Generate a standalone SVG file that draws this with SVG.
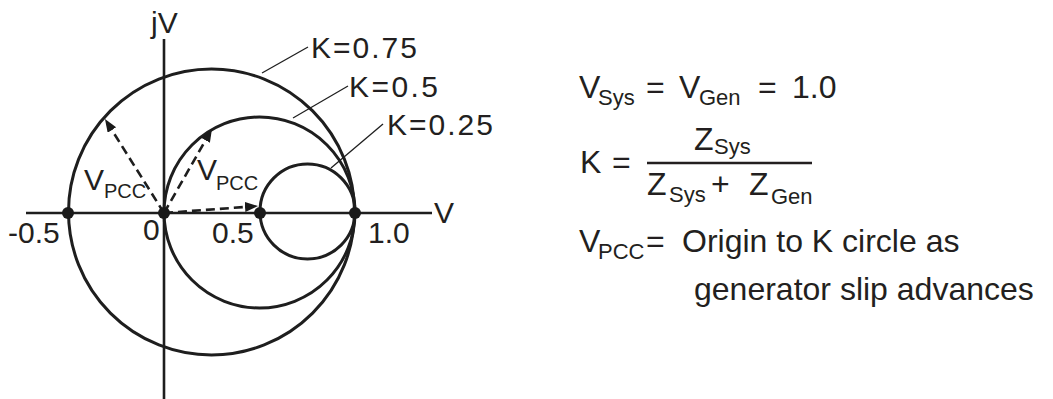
<svg xmlns="http://www.w3.org/2000/svg" width="1053" height="399" viewBox="0 0 1053 399">
<style>
.ax{stroke:#1e1e1e;stroke-width:2.6;fill:none}
.cir{stroke:#1e1e1e;stroke-width:3;fill:none}
.lead{stroke:#1e1e1e;stroke-width:1.3;fill:none}
.dash{stroke:#1e1e1e;stroke-width:2.6;fill:none;stroke-dasharray:9 5}
.dot{fill:#1a1a1a}
text{font-family:"Liberation Sans",Arial,sans-serif;fill:#231f20}
.lbl{font-size:30px}
.sub{font-size:20px}
.big{font-size:32px}
.bsub{font-size:22px}
</style>
<defs>
<marker id="ah" markerUnits="userSpaceOnUse" markerWidth="14" markerHeight="11" refX="9" refY="5" orient="auto">
<path d="M0,0 L13,5 L0,10 z" fill="#1a1a1a"/>
</marker>
</defs>
<rect width="1053" height="399" fill="#ffffff"/>
<g id="axes">
<line class="ax" x1="164" y1="39" x2="164" y2="399"/>
<line class="ax" x1="26" y1="213" x2="432" y2="213"/>
<text class="lbl" x="151" y="33" font-size="29">jV</text>
<text class="lbl" x="434" y="223">V</text>
<text class="lbl" x="8" y="243">-0.5</text>
<text class="lbl" x="143" y="240">0</text>
<text class="lbl" x="212" y="243">0.5</text>
<text class="lbl" x="368" y="243">1.0</text>
</g>
<g id="circles">
<circle id="k075" class="cir" cx="211.5" cy="212" r="143"/>
<circle id="k05" class="cir" cx="259.5" cy="212.5" r="95.5"/>
<circle id="k025" class="cir" cx="307.5" cy="211.5" r="47.5"/>
</g>
<g id="labels">
<line class="lead" x1="262" y1="73" x2="308" y2="47"/>
<text class="lbl" x="311" y="58" textLength="106" lengthAdjust="spacing">K=0.75</text>
<line class="lead" x1="293" y1="118" x2="348" y2="86"/>
<text class="lbl" x="349" y="97" textLength="89" lengthAdjust="spacing">K=0.5</text>
<line class="lead" x1="331" y1="168" x2="383" y2="124"/>
<text class="lbl" x="387" y="135" textLength="106" lengthAdjust="spacing">K=0.25</text>
</g>
<g id="connectors">
<line class="dash" x1="164" y1="213" x2="107.1" y2="122.4" marker-end="url(#ah)"/>
<line class="dash" x1="164" y1="213" x2="210" y2="132.5" marker-end="url(#ah)"/>
<line class="dash" x1="164" y1="213" x2="254" y2="206.3" marker-end="url(#ah)"/>
</g>
<g id="vpcc-labels">
<text class="lbl" x="84" y="190">V</text>
<text class="sub" x="104" y="198">PCC</text>
<text class="lbl" x="197" y="180">V</text>
<text class="sub" x="216" y="190">PCC</text>
</g>
<g id="dots">
<circle class="dot" cx="68" cy="213" r="6"/>
<circle class="dot" cx="164" cy="213" r="6"/>
<circle class="dot" cx="260" cy="213" r="6"/>
<circle class="dot" cx="355" cy="213" r="6"/>
</g>
<g id="formula">
<text class="big" x="579" y="98">V</text>
<text class="bsub" x="598" y="105">Sys</text>
<text class="big" x="646" y="98">=</text>
<text class="big" x="679" y="98">V</text>
<text class="bsub" x="699" y="105">Gen</text>
<text class="big" x="758" y="98">=</text>
<text class="big" x="792" y="98">1.0</text>
<text class="big" x="580" y="173">K</text>
<text class="big" x="612" y="173">=</text>
<line x1="647" y1="163" x2="812" y2="163" stroke="#231f20" stroke-width="2.5"/>
<text class="big" x="694" y="150">Z</text>
<text class="bsub" x="714" y="154">Sys</text>
<text class="big" x="647" y="195">Z</text>
<text class="bsub" x="669" y="202">Sys</text>
<text class="big" x="711" y="195">+</text>
<text class="big" x="749" y="195">Z</text>
<text class="bsub" x="771" y="204">Gen</text>
<text class="big" x="579" y="252">V</text>
<text class="bsub" x="598" y="259">PCC</text>
<text class="big" x="646" y="252">=</text>
<text class="big" x="682" y="252">Origin to K circle as</text>
<text class="big" x="694" y="300">generator slip advances</text>
</g>
</svg>
